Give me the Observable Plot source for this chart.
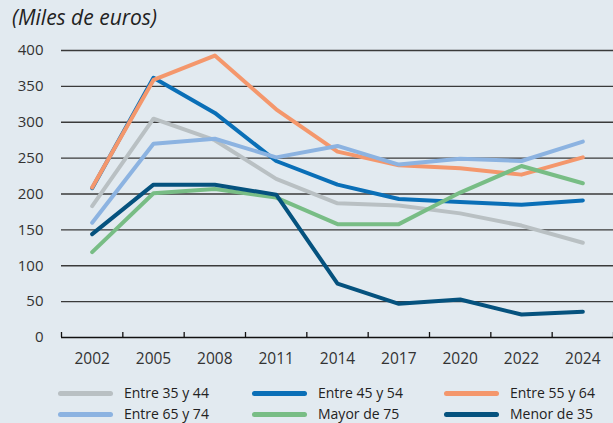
<!DOCTYPE html>
<html>
<head>
<meta charset="utf-8">
<script src="https://cdn.jsdelivr.net/npm/d3@7"></script>
<script src="https://cdn.jsdelivr.net/npm/@observablehq/plot@0.6"></script>
<style>
  html, body { margin: 0; padding: 0; }
  body { width: 613px; height: 423px; background: #e2eaf0; position: relative; overflow: hidden; font-family: "Open Sans", "Noto Sans", sans-serif; color: #333; }
  #title { position: absolute; left: 12px; top: 3px; font-size: 21px; font-style: italic; color: #222; }
  #chart { position: absolute; left: 0; top: 0; }
  .leg { position: absolute; font-size: 14px; line-height: 18px; height: 18px; color: #222; display: flex; align-items: center; white-space: nowrap; }
  .sw { display: inline-block; width: 55px; height: 5px; border-radius: 3px; margin-right: 11px; }
</style>
</head>
<body>
<div id="chart"></div>
<div id="title">(Miles de euros)</div>
<div id="legend"></div>
<script>
const years = ["2002", "2005", "2008", "2011", "2014", "2017", "2020", "2022", "2024"];
const seriesNames = ["Entre 35 y 44", "Entre 45 y 54", "Entre 55 y 64", "Entre 65 y 74", "Mayor de 75", "Menor de 35"];
const colors = ["#b9c0c3", "#0a6fb7", "#f4976c", "#8cb3e1", "#78bd85", "#05527e"];
const entre35y44 = [183, 305, 275, 221, 187, 184, 173, 156, 132];
const entre45y54 = [208, 362, 313, 246, 213, 193, 189, 185, 191];
const entre55y64 = [209, 359, 393, 318, 259, 240, 236, 227, 251];
const entre65y74 = [160, 270, 277, 251, 267, 241, 249, 246, 273];
const mayor75 = [119, 201, 207, 195, 158, 158, 202, 239, 215];
const menor35 = [144, 213, 213, 199, 75, 47, 53, 32, 36];
const yTicks = [0, 50, 100, 150, 200, 250, 300, 350, 400];

const allSeries = [entre35y44, entre45y54, entre55y64, entre65y74, mayor75, menor35];
const data = allSeries.flatMap((vals, s) => vals.map((v, i) => ({serie: seriesNames[s], i, year: years[i], value: v})));
const boundaries = d3.range(years.length + 1).map(k => k - 0.5);

const plot = Plot.plot({
  width: 613,
  height: 375,
  marginLeft: 61,
  marginRight: 0,
  marginTop: 50,
  marginBottom: 38,
  style: {background: "transparent", fontFamily: "'Open Sans', 'Noto Sans', sans-serif", fontSize: "15px", color: "#333"},
  x: {type: "linear", domain: [-0.5, years.length - 0.5], axis: null},
  y: {domain: [0, 400], axis: null},
  color: {domain: seriesNames, range: colors},
  marks: [
    Plot.ruleY(yTicks.filter(d => d > 0), {stroke: "#3a3a3a", strokeWidth: 1.3}),
    Plot.axisY({ticks: yTicks, tickSize: 0, tickPadding: 18, fontSize: 15, fill: "#333", label: null}),
    Plot.axisX({ticks: boundaries, tickFormat: () => "", tickSize: -5, stroke: "#111", strokeWidth: 1.3, label: null}),
    Plot.axisX({ticks: d3.range(years.length), tickFormat: i => years[i], tickSize: 0, tickPadding: 15, fontSize: 15.5, fill: "#333", label: null}),
    Plot.ruleY([0], {stroke: "#111", strokeWidth: 1.6}),
    Plot.line(data, {x: "i", y: "value", z: "serie", stroke: "serie", strokeWidth: 4, strokeLinecap: "round", strokeLinejoin: "round"})
  ]
});
document.getElementById("chart").appendChild(plot);

const legendPos = [[58, 384], [252, 384], [444, 384], [58, 405], [252, 405], [444, 405]];
const legend = document.getElementById("legend");
seriesNames.forEach((name, k) => {
  const el = document.createElement("div");
  el.className = "leg";
  el.style.left = legendPos[k][0] + "px";
  el.style.top = legendPos[k][1] + "px";
  el.innerHTML = `<span class="sw" style="background:${colors[k]}"></span><span>${name}</span>`;
  legend.appendChild(el);
});
</script>
</body>
</html>
